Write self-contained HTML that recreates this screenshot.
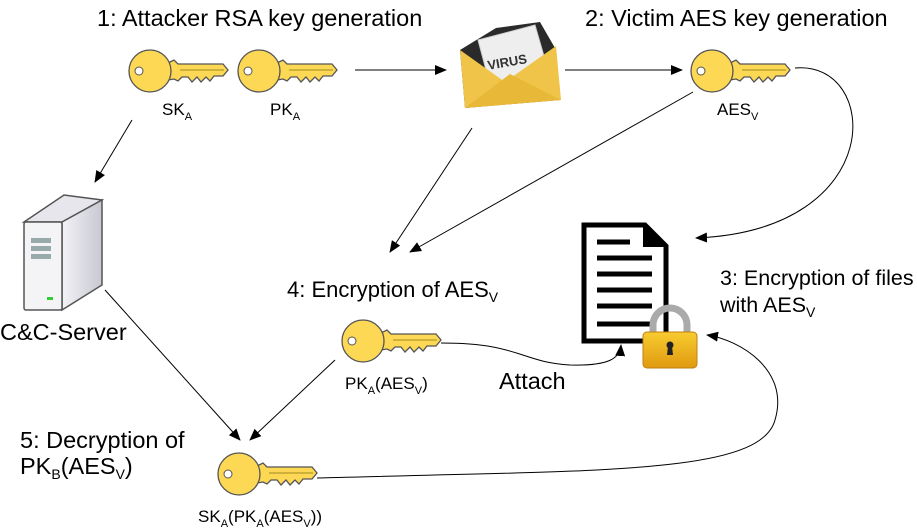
<!DOCTYPE html>
<html><head><style>
body{margin:0;background:#fff;}
svg{display:block;font-family:"Liberation Sans",sans-serif;}
</style></head><body>
<svg width="917" height="528" viewBox="0 0 917 528">
<defs>
<g id="key">
<path d="M40,13 L46,10 L50,14 L95,14 L100,20 L95,26 L86,26 L82,31 L78,27 L73,32 L69,27 L64,32 L60,27 L54,27 L50,31 L46,29 L40,30 Z" fill="#fdd855" stroke="#555" stroke-width="1.3"/>
<circle cx="22" cy="21" r="21" fill="#fdd855" stroke="#555" stroke-width="1.3"/>
<circle cx="11" cy="21" r="4" fill="#fff" stroke="#555"/>
<line x1="52" y1="20" x2="96" y2="20" stroke="#a08a20" stroke-width="1"/>
</g>
<marker id="ah" markerWidth="12" markerHeight="10" refX="11" refY="5" orient="auto" markerUnits="userSpaceOnUse"><path d="M0,0 L12,5 L0,10 Z" fill="#000"/></marker>
<linearGradient id="lk" x1="0" y1="0" x2="0" y2="1"><stop offset="0" stop-color="#f8cc30"/><stop offset="1" stop-color="#e09a10"/></linearGradient>
<linearGradient id="sv" x1="0" y1="0" x2="1" y2="0"><stop offset="0" stop-color="#f2f2f6"/><stop offset="1" stop-color="#c8c8d2"/></linearGradient>
</defs>

<g font-size="23.5" fill="#000">
<text x="97" y="26">1: Attacker RSA key generation</text>
<text x="585" y="26">2: Victim AES key generation</text>
<text x="287" y="297" font-size="22">4: Encryption of AES<tspan font-size="14" dy="5">V</tspan></text>
<text x="720" y="285" font-size="21.5">3: Encryption of files</text>
<text x="720" y="312" font-size="21.5">with AES<tspan font-size="14" dy="5">V</tspan></text>
<text x="0" y="340">C&amp;C-Server</text>
<text x="20" y="448">5: Decryption of</text>
<text x="20" y="474">PK<tspan font-size="14" dy="5">B</tspan><tspan dy="-5">(AES</tspan><tspan font-size="14" dy="5">V</tspan><tspan dy="-5">)</tspan></text>
<text x="499" y="389">Attach</text>
</g>
<g font-size="17" fill="#000">
<text x="162" y="115">SK<tspan font-size="11" dy="5">A</tspan></text>
<text x="270" y="115">PK<tspan font-size="11" dy="5">A</tspan></text>
<text x="717" y="115">AES<tspan font-size="11" dy="5">V</tspan></text>
<text x="345" y="389">PK<tspan font-size="11" dy="5">A</tspan><tspan dy="-5">(AES</tspan><tspan font-size="11" dy="5">V</tspan><tspan dy="-5">)</tspan></text>
<text x="198" y="522">SK<tspan font-size="11" dy="5">A</tspan><tspan dy="-5">(PK</tspan><tspan font-size="11" dy="5">A</tspan><tspan dy="-5">(AES</tspan><tspan font-size="11" dy="5">V</tspan><tspan dy="-5">))</tspan></text>
</g>

<use href="#key" x="128" y="50"/>
<use href="#key" x="237" y="50"/>
<use href="#key" x="690" y="50"/>
<use href="#key" x="341" y="320"/>
<use href="#key" x="217" y="453"/>

<!-- envelope -->
<g>
<path d="M460,50 L496,28 L540,22 L555,48 L560,100 L465,108 Z" fill="#2a2a2a"/>
<path d="M478,40 L535,25 L548,70 L490,85 Z" fill="#eee" stroke="#ccc"/>
<text x="487" y="66" font-size="13" font-weight="bold" fill="#333" transform="rotate(-10 510 60)">VIRUS</text>
<path d="M460,50 L505,82 L556,46 L561,100 L465,108 Z" fill="#f0c448"/>
<path d="M465,108 L510,74 L561,100 Z" fill="#e8b838"/>
</g>

<!-- server -->
<g stroke="#555" stroke-width="1.5">
<path d="M24,222 L64,195 L102,200 L62,222 Z" fill="#e6e6ec"/>
<path d="M62,222 L102,200 L102,285 L62,310 Z" fill="url(#sv)"/>
<rect x="24" y="222" width="38" height="88" rx="2" fill="#f4f4f6"/>
</g>
<rect x="31" y="238" width="20" height="5" fill="#9aa"/>
<rect x="31" y="246" width="20" height="5" fill="#9aa"/>
<rect x="31" y="254" width="20" height="5" fill="#9aa"/>
<rect x="47" y="297" width="6" height="3" fill="#3c3"/>

<!-- document -->
<path d="M584,225 L645,225 L666,246 L666,341 L584,341 Z" fill="#fff" stroke="#000" stroke-width="5"/>
<path d="M643,224 L643,247 L667,247 Z" fill="#000"/>
<g stroke="#000" stroke-width="5">
<line x1="597" y1="242" x2="630" y2="242"/>
<line x1="597" y1="258" x2="652" y2="258"/>
<line x1="597" y1="274" x2="652" y2="274"/>
<line x1="597" y1="290" x2="652" y2="290"/>
<line x1="597" y1="306" x2="652" y2="306"/>
<line x1="597" y1="324" x2="652" y2="324"/>
</g>
<!-- lock -->
<path d="M653,335 L653,325 A17,17 0 0 1 687,325 L687,335" fill="none" stroke="#aaa" stroke-width="7"/>
<rect x="643" y="332" width="54" height="36" rx="4" fill="url(#lk)" stroke="#c08010"/>
<circle cx="670" cy="345" r="3.5" fill="#222"/><path d="M668,346 L672,346 L673,355 L667,355 Z" fill="#222"/>

<!-- arrows -->
<g stroke="#000" stroke-width="1" fill="none" marker-end="url(#ah)">
<line x1="355" y1="70" x2="446" y2="70"/>
<line x1="565" y1="70" x2="682" y2="70"/>
<line x1="132" y1="120" x2="95" y2="182"/>
<line x1="472" y1="128" x2="390" y2="252"/>
<line x1="693" y1="92" x2="410" y2="252"/>
<path d="M795,68 C880,60 890,230 696,238"/>
<line x1="105" y1="290" x2="240" y2="440"/>
<line x1="335" y1="360" x2="250" y2="440"/>
<path d="M441,343 C520,343 520,362 570,365 C610,366 620,358 621,345"/>
<path d="M317,478 C600,470 760,475 775,420 C790,370 740,340 707,335"/>
</g>
</svg>
</body></html>
